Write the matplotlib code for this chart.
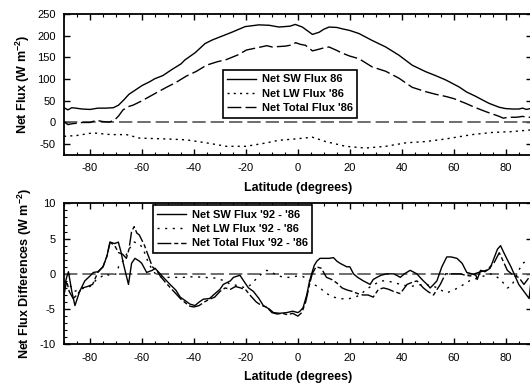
import matplotlib
matplotlib.use('agg')
import matplotlib.pyplot as plt
from matplotlib.ticker import MultipleLocator

plt.rcParams['font.family'] = ['Liberation Sans', 'DejaVu Sans']
plt.rcParams['axes.unicode_minus'] = False
plt.rcParams['mathtext.fontset'] = 'custom'
plt.rcParams['mathtext.rm'] = 'Liberation Sans:bold'
plt.rcParams['mathtext.it'] = 'Liberation Sans:bold'
plt.rcParams['mathtext.bf'] = 'Liberation Sans:bold'

# ---- top panel: zonal net fluxes 1986 ----
sw_lat = [-90, -88.5, -87, -85.5, -83, -80, -77, -74, -71, -69, -67, -65, -62.5, -60, -57, -55, -52,
          -48.5, -45, -43.5, -39.5, -35.7, -33, -30.5, -25.4, -20.3, -15, -11, -7.3, -3, -1, 1.7, 4,
          5.6, 8.2, 10, 12, 15, 17, 20, 23.5, 28.6, 33.8, 38.9, 44, 49.2, 53, 56.9, 62, 65, 68.5, 71,
          73.6, 77.5, 80, 82.6, 85, 86.5, 88, 90]
sw_val = [34, 29, 34, 33, 31, 30, 33, 33, 34, 40, 52, 65, 75, 85, 94, 101, 108,
          122, 135, 144, 161, 182, 190, 196, 208, 221, 225, 224, 220, 222, 226, 220, 210,
          203, 208, 215, 220, 219, 216, 212, 205, 189, 174, 155, 132, 117, 108, 98, 82, 70, 60, 52,
          44, 35, 32, 31, 31, 33, 30, 33]

lw_lat = [-90, -85, -79, -72, -66, -61, -56, -50.6, -43, -35.2, -27.5, -20, -15, -12, -7.3, -1, 5.6,
          10.7, 18.4, 26, 33.8, 41.5, 49.2, 56.9, 67, 74.8, 82.6, 90]
lw_val = [-32, -30, -24, -28, -28, -36, -37, -38, -40, -47, -55, -55, -50, -47, -41, -38, -34,
          -44, -55, -59, -55, -47, -44, -38, -28, -23, -21, -17]

tot_lat = [-90, -88.5, -87, -85.5, -83, -80, -77.6, -75, -72.4, -70.5, -69, -67.3, -65, -63.4, -60,
           -57, -54, -50.6, -47, -42.9, -39, -35.2, -31, -27.5, -23, -19.8, -15, -12, -9.9, -4.8,
           -2, -0.9, 1, 2.9, 5.6, 8.2, 10, 12, 15, 17, 20, 23.5, 28.6, 33.8, 38.9, 44, 49.2, 53,
           56.9, 60, 64.6, 68, 72.3, 77.5, 79, 81.3, 84, 86.5, 88, 90]
tot_val = [2, -5, -3, -2, 0, 0, 5, 2, 1, 6, 15, 29, 37, 40, 50,
           60, 70, 81, 92, 107, 118, 132, 140, 145, 156, 167, 173, 177, 174, 176,
           179, 184, 180, 178, 165, 169, 172, 174, 166, 160, 153, 147, 128, 118, 102, 81, 71, 65,
           60, 55, 44, 35, 25, 14, 10, 12, 12, 14, 12, 12]

# ---- bottom panel: differences '92 - '86 ----
dsw_lat = [-90, -89, -88.3, -87, -85.8, -84, -82, -80, -78.7, -77, -75, -73.5, -72.3, -70.5, -69.1,
           -68, -67.2, -65.2, -64, -62.7, -61, -60.1, -58.2, -56, -55, -53, -51, -49.2, -47, -45.3,
           -43, -41.5, -39.6, -38, -36.4, -34, -32.5, -30, -28.7, -26, -24.8, -22.3, -20.5, -19,
           -17.1, -15, -13.3, -11, -9.4, -7, -4.3, -2, 0, 0.8, 2, 3.4, 4.5, 5.3, 6.3, 7.3, 8.5, 9.8,
           12, 13.7, 15, 16.2, 18.8, 20, 21.4, 23, 25.2, 27.8, 29, 30.4, 32, 34.2, 36.8, 38, 39.4,
           41, 43.2, 45.8, 47, 48.3, 50, 50.9, 52, 53.5, 55.4, 57.3, 59, 61.2, 63.2, 65, 67, 68.5,
           69, 70.3, 72, 74, 76.8, 78, 79, 80.6, 82, 83.2, 85, 87, 89, 90]
dsw_val = [-2, -0.5, 0.3, -2.5, -4.5, -2.5, -1, -0.3, 0.2, 0.3, 1.0, 2.5, 4.5, 4.3, 4.5,
           3, 1.5, -1.5, 1.5, 2.2, 1.8, 1.5, 0.2, 0.5, 0.8, 0, -0.8, -1.5, -2.3, -3.3,
           -3.9, -4.3, -4.5, -4.0, -3.6, -3.5, -3.0, -2.2, -1.5, -1.0, -0.5, -0.2, -1.2, -2.0,
           -2.5, -3.5, -4.5, -5.0, -5.5, -5.6, -5.5, -5.3, -5.5, -5.3, -4.8, -3, -1.0, 0, 1.2, 1.8, 2.2, 2.2,
           2.2, 2.3, 1.8, 1.5, 1.0, 1.0, 0, -0.5, -1.0, -1.5, -0.8, -0.5, -0.2, 0, 0, -0.2, -0.5,
           0, 0.5, 0, -0.5, -1.0, -1.6, -2.0, -1.6, -1.0, 1.0, 2.4, 2.4, 2.2, 1.5, 0.2, 0, -0.2,
           -0.8, 0.5, 0.3, 0.8, 3.5, 4.0, 3.2, 2.0, 1.0, 0, -1.5, -2.5, -3.5, 0]

dlw_lat = [-90, -88, -86, -84, -82, -80, -78, -76, -74, -72, -70, -69, -67, -65, -63, -61, -59.5,
           -58, -56, -54, -52, -48, -44, -40, -36, -32, -28, -26, -24, -22, -20, -18, -15.8, -14,
           -12, -10, -7.5, -5, -3, 0, 2, 4, 5.8, 8, 10, 12, 13.7, 16, 19, 22, 24, 26, 28, 30.4, 32,
           34, 36.8, 39.4, 43.2, 48, 52, 55, 57.3, 60, 62.5, 66, 70, 74, 76, 78, 80.6, 82, 83.2,
           85, 86.5, 89]
dlw_val = [-1, -1.5, -2.5, -2.2, -2.0, -1.8, -1.0, -0.5, 0, -0.3, 0, 1.0, 2.0, 3.5, 4.5, 4.3, 3.5,
           2.0, 0.5, -0.3, -0.5, -0.5, -0.5, -0.4, -0.5, -0.6, -1.0, -1.5, -1.6, -1.8, -2.0, -1.5, -0.6, 0,
           0.5, 0.2, -0.3, -0.5, -0.5, -0.3, -0.4, -0.8, -1.5, -1.8, -2.5, -3.0, -3.3, -3.5, -3.6, -3.3, -3.0, -2.3, -1.8, -1.3, -1.0,
           -1.0, -1.2, -1.5, -1.8, -1.5, -1.7, -2.3, -2.7, -2.3, -1.8, -1.0, -0.5, 0, -0.3, -0.8, -2.0, -1.8, -1.0,
           0.5, 1.5, 2.0]

dtot_lat = [-90, -89, -88, -86.5, -85, -83, -81, -79, -77, -75, -73.5, -72.3, -70.5, -69, -67.5, -66,
            -65, -64, -63, -62, -61, -59, -57.5, -56, -54, -53, -51, -49, -47, -45, -43, -41.5, -40,
            -38, -36, -34, -32, -30, -28, -26, -24, -22, -20, -18, -16, -14, -12, -10, -8, -6, -4,
            -2, 0, 1.5, 3, 4.5, 5.5, 7, 9, 11, 13, 15, 17, 19, 21, 23, 25, 27, 29, 31, 33, 35, 36.8,
            39.4, 42, 44, 45.8, 48.3, 50, 52.2, 54.8, 56.8, 60, 62.5, 64.5, 66.4, 68, 70.3, 72.5,
            75.4, 77.5, 79, 80.6, 83.2, 85, 87, 89]
dtot_val = [-3, -1, -2.5, -3.5, -3, -2, -1.8, -1.5, 0.2, 1.0, 2.5, 4.5, 4.0, 3.0, 2.8, 2.2,
            3.5, 6.0, 6.7, 5.8, 5.5, 4.0, 2.5, 1.0, 0.3, -0.3, -1.2, -2.0, -2.8, -3.6, -4.2, -4.6, -4.7,
            -4.5, -4.0, -3.6, -3.3, -2.5, -2.0, -2.2, -1.8, -2.0, -2.3, -3.2, -4.0, -4.5, -4.7, -5.5, -5.7, -5.6, -5.8,
            -5.6, -6.0, -5.5, -4.0, -1.5, 0, 1.0, 0.8, -0.5, -0.8, -1.3, -2.0, -2.3, -2.5, -2.8, -3.0, -3.0, -3.3, -2.2, -2.0, -2.2, -2.5,
            -2.8, -1.5, -1.2, -1.0, -2.0, -2.5, -3.0, -1.5, 0, 0, 0, -0.2, -0.3, 0, 0.3, 0.5,
            1.5, 3.0, 1.8, 0.5, -0.3, -0.5, -1.5, -0.5]

fig = plt.figure(figsize=(5.3, 3.83), dpi=100)
ax1 = fig.add_axes([0.1208, 0.5953, 0.8825, 0.3681])
ax2 = fig.add_axes([0.1208, 0.101, 0.8825, 0.368])

def style(ax):
    ax.set_xlim(-90, 90)
    ax.xaxis.set_major_locator(MultipleLocator(20))
    ax.xaxis.set_minor_locator(MultipleLocator(5))
    ax.tick_params(which='both', direction='in', top=True, right=True, labelsize=8, pad=6)
    ax.tick_params(which='major', length=4, width=1)
    ax.tick_params(which='minor', length=2.5, width=0.8)
    for s in ax.spines.values():
        s.set_linewidth(1.3)
    ax.set_xlabel('Latitude (degrees)', fontsize=9, fontweight='bold', labelpad=6)

# top
ax1.axhline(0, color='#555555', lw=1.2, dashes=(8, 3))
ax1.plot(sw_lat, sw_val, color='black', lw=1.0, label='Net SW Flux 86')
ax1.plot(lw_lat, lw_val, color='black', lw=1.0, ls=(0, (1.5, 3)), label="Net LW Flux '86")
ax1.plot(tot_lat, tot_val, color='black', lw=1.0, ls=(0, (10, 3)), label="Net Total Flux '86")
style(ax1)
ax1.set_ylim(-75, 250)
ax1.yaxis.set_major_locator(MultipleLocator(50))
ax1.set_ylabel(r'Net Flux (W m$^{-2}$)', fontsize=9, fontweight='bold', labelpad=4)
leg1 = ax1.legend(loc='upper left', bbox_to_anchor=(0.34, 0.603), fancybox=False, framealpha=1,
                  edgecolor='black', prop={'weight': 'bold', 'size': 8}, handlelength=2.6,
                  borderpad=0.4, labelspacing=0.4, handletextpad=0.5, borderaxespad=0)
leg1.get_frame().set_linewidth(1.2)

# bottom
ax2.axhline(0, color='#555555', lw=1.2, dashes=(8, 3))
ax2.plot(dsw_lat, dsw_val, color='black', lw=1.0, label="Net SW Flux '92 - '86")
ax2.plot(dlw_lat, dlw_val, color='black', lw=1.0, ls=(0, (1.5, 4)), label="Net LW Flux '92 - '86")
ax2.plot(dtot_lat, dtot_val, color='black', lw=1.0, ls=(0, (10, 2, 3, 2)), label="Net Total Flux '92 - '86")
style(ax2)
ax2.set_ylim(-10, 10)
ax2.yaxis.set_major_locator(MultipleLocator(5))
ax2.yaxis.set_minor_locator(MultipleLocator(1))
ax2.tick_params(which='minor', right=False)
ax2.set_ylabel(r'Net Flux Differences (W m$^{-2}$)', fontsize=9, fontweight='bold', labelpad=4)
leg2 = ax2.legend(loc='upper left', bbox_to_anchor=(0.19, 0.988), fancybox=False, framealpha=1,
                  edgecolor='black', prop={'weight': 'bold', 'size': 8}, handlelength=2.6,
                  borderpad=0.4, labelspacing=0.4, handletextpad=0.5, borderaxespad=0)
leg2.get_frame().set_linewidth(1.2)

fig.savefig('out.png', dpi=100)
